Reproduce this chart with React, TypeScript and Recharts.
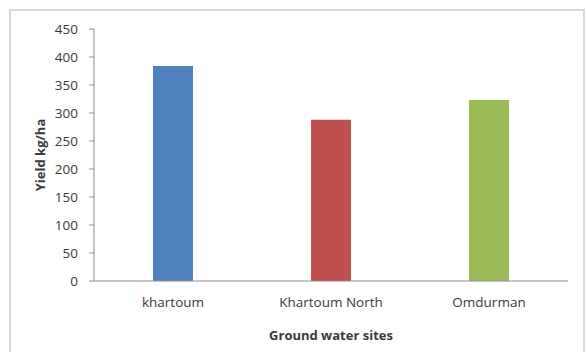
import { Bar, BarChart, Cell, XAxis, YAxis } from "recharts";

const sites = ["khartoum", "Khartoum North", "Omdurman"];
const yieldKgHa = [384, 288, 323];
const barColors = ["#4f81bd", "#c0504d", "#9bbb59"];
const yTicks = [0, 50, 100, 150, 200, 250, 300, 350, 400, 450];

const data = sites.map((site, i) => ({ site, yield: yieldKgHa[i] }));

const FONT = "'Open Sans', sans-serif";
const TEXT = "#3a3a3a";
const AXIS = "#8c8c8c";

function YTitle({ viewBox }: { viewBox?: { x: number; y: number; width: number; height: number } }) {
  if (!viewBox) return null;
  const cx = viewBox.x + 40;
  const cy = viewBox.y + viewBox.height / 2;
  return (
    <text
      x={cx}
      y={cy}
      transform={`rotate(-90 ${cx} ${cy})`}
      textAnchor="middle"
      dominantBaseline="central"
      fill={TEXT}
      fontFamily={FONT}
      fontSize={13}
      fontWeight="bold"
    >
      Yield kg/ha
    </text>
  );
}

export default function App() {
  return (
    <div style={{ position: "absolute", left: 0, top: 0, width: 586, height: 352, background: "#fff", overflow: "hidden" }}>
      <div
        style={{
          position: "absolute",
          left: 9,
          top: 9,
          width: 572,
          height: 400,
          border: "2px solid #d9d9d9",
        }}
      />
      <div style={{ position: "absolute", left: 0, top: 0 }}>
        <BarChart width={586} height={352} data={data} margin={{ top: 29, right: 18, bottom: 0, left: 0 }}>
          <XAxis
            dataKey="site"
            height={71}
            tickLine={false}
            tickSize={0}
            tickMargin={16}
            axisLine={{ stroke: AXIS }}
            tick={{ fill: TEXT, fontSize: 13.5, fontFamily: FONT }}
            label={{ value: "Ground water sites", position: "insideBottom", offset: 12, fill: TEXT, fontSize: 13, fontWeight: "bold", fontFamily: FONT }}
          />
          <YAxis
            width={94}
            domain={[0, 450]}
            ticks={yTicks}
            interval={0}
            tickSize={5}
            tickMargin={11}
            tickLine={{ stroke: AXIS }}
            axisLine={{ stroke: AXIS }}
            tick={{ fill: TEXT, fontSize: 13.5, fontFamily: FONT }}
            label={<YTitle />}
          />
          <Bar dataKey="yield" barSize={40} isAnimationActive={false}>
            {data.map((d, i) => (
              <Cell key={d.site} fill={barColors[i]} />
            ))}
          </Bar>
        </BarChart>
      </div>
    </div>
  );
}
